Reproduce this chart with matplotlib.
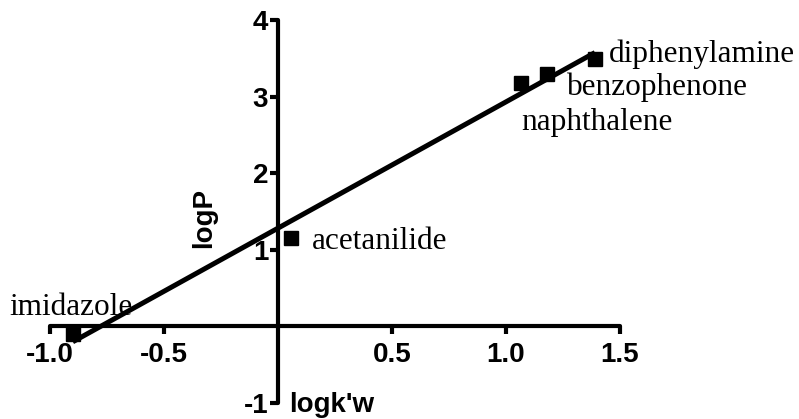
import numpy as np
import matplotlib.pyplot as plt

# retention (logk'w) vs partition coefficient (logP)
compounds = ["imidazole", "acetanilide", "naphthalene", "benzophenone", "diphenylamine"]
logkw = [-0.90, 0.057, 1.066, 1.18, 1.39]
logp = [-0.10, 1.16, 3.18, 3.29, 3.49]

# label offsets from each point, in points (dx, dy), baseline-aligned
label_off = {
    "imidazole": (-46, 14),
    "acetanilide": (15, -8),
    "naphthalene": (0, -34),
    "benzophenone": (14, -15),
    "diphenylamine": (10, -2),
}

serif = "Liberation Serif"
sans = "Liberation Sans"

fig = plt.figure(figsize=(7.99, 4.19), dpi=100)
ax = fig.add_axes([0.0626, 0.0382, 0.7134, 0.914])

# linear fit drawn across the data range
slope, icept = np.polyfit(logkw, logp, 1)
xs = np.array([min(logkw), max(logkw)])
ax.plot(xs, slope * xs + icept, color="black", lw=3.6, solid_capstyle="butt", zorder=3)

ax.plot(logkw, logp, "s", color="black", ms=10.5, clip_on=False, zorder=4)

for name, x, y in zip(compounds, logkw, logp):
    dx, dy = label_off[name]
    ax.annotate(name, (x, y), xytext=(dx, dy), textcoords="offset points",
                ha="left", va="baseline", fontsize=22.5, family=serif)

ax.set_xlim(-1, 1.5)
ax.set_ylim(-1, 4)

# axes crossing at the origin
for s in ["top", "right"]:
    ax.spines[s].set_visible(False)
ax.spines["left"].set_position(("data", 0))
ax.spines["bottom"].set_position(("data", 0))
ax.spines["left"].set_bounds(-1, 4)
ax.spines["bottom"].set_bounds(-1, 1.5)
for s in ["left", "bottom"]:
    ax.spines[s].set_linewidth(3)
    ax.spines[s].set_capstyle("round")

ax.set_xticks([-1.0, -0.5, 0.5, 1.0, 1.5])
ax.set_xticklabels(["-1.0", "-0.5", "0.5", "1.0", "1.5"])
ax.set_yticks([-1, 1, 2, 3, 4])
ax.set_yticklabels(["-1", "1", "2", "3", "4"])
ax.tick_params(direction="out", length=6, width=3)
ax.tick_params(axis="x", pad=5)
ax.tick_params(axis="y", pad=1)
for lab in ax.get_xticklabels() + ax.get_yticklabels():
    lab.set_family(sans)
    lab.set_fontweight("bold")
    lab.set_fontsize(20)

ax.text(-0.325, 1.41, "logP", rotation=90, ha="center", va="center",
        fontsize=20, fontweight="bold", family=sans)
ax.text(0.048, -1.02, "logk'w", ha="left", va="center",
        fontsize=20, fontweight="bold", family=sans)

fig.savefig("out.png", dpi=100)
